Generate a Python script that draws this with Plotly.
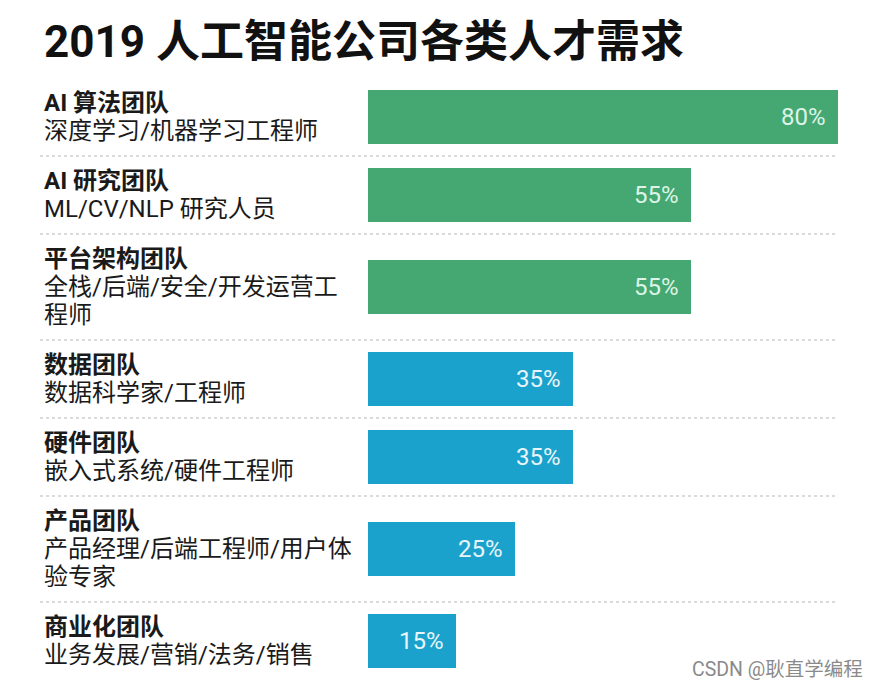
import plotly.graph_objects as go

# ---- data ----
title = "2019 人工智能公司各类人才需求"
teams = ["AI 算法团队", "AI 研究团队", "平台架构团队", "数据团队", "硬件团队", "产品团队", "商业化团队"]
roles = [
    ["深度学习/机器学习工程师"],
    ["ML/CV/NLP 研究人员"],
    ["全栈/后端/安全/开发运营工", "程师"],
    ["数据科学家/工程师"],
    ["嵌入式系统/硬件工程师"],
    ["产品经理/后端工程师/用户体", "验专家"],
    ["业务发展/营销/法务/销售"],
]
demand = [80, 55, 55, 35, 35, 25, 15]
group = ["ai", "ai", "ai", "other", "other", "other", "other"]
watermark = "CSDN @耿直学编程"

# ---- style ----
W, H = 880, 688
OFF = 8  # page body margin
FONT = "Roboto, Noto Sans CJK SC, sans-serif"
bar_color = {"ai": "#45a873", "other": "#1ba2cc"}
val_color = {"ai": "#dcf5e6", "other": "#e8f6fb"}
LEFT = 42
BAR_X0 = 368
PX_PER_PCT = 5.87
LINE = 28
TOP = 78
GAP = 24
BAR_H = 54


def px(x):
    return (x - OFF) / W


# row geometry from number of label lines (y axis in screen-pixel units)
nlines = [1 + len(r) for r in roles]
heights = [LINE * n - 2 + GAP for n in nlines]
centers, edges = [], []
y = TOP
for h in heights:
    centers.append(y + h / 2)
    y += h
    edges.append(y)

fig = go.Figure()
fig.add_trace(go.Bar(
    x=demand, y=centers, orientation="h", width=BAR_H,
    marker=dict(color=[bar_color[g] for g in group], line=dict(width=0)),
    hoverinfo="skip",
))

ann = []
ann.append(dict(text=f"<b>{title}</b>", x=px(LEFT), xref="paper", y=42, yref="y",
                xanchor="left", yanchor="middle", showarrow=False,
                font=dict(family=FONT, size=44, color="#111111")))
for i, c in enumerate(centers):
    lines = [f"<b>{teams[i]}</b>"] + roles[i]
    n = len(lines)
    for j, t in enumerate(lines):
        ann.append(dict(text=t, x=px(LEFT), xref="paper", y=c + (j - (n - 1) / 2) * LINE,
                        yref="y", xanchor="left", yanchor="middle", showarrow=False,
                        font=dict(family=FONT, size=24, color="#1a1a1a")))
    ann.append(dict(text=f"{demand[i]}%", x=demand[i], xref="x", y=c, yref="y",
                    xanchor="right", yanchor="middle", xshift=-10, showarrow=False,
                    font=dict(family=FONT, size=24, color=val_color[group[i]])))
ann.append(dict(text=watermark, x=px(865), xref="paper", y=669, yref="y",
                xanchor="right", yanchor="middle", showarrow=False,
                font=dict(family=FONT, size=19.5, color="#8a8a8a")))

shapes = []
for e in edges[:-1]:
    shapes.append(dict(type="line", xref="paper", yref="y", x0=px(40), x1=px(838),
                       y0=e, y1=e, line=dict(color="#cfcfcf", width=1.5, dash="dot")))

fig.update_layout(
    width=W, height=H, margin=dict(l=0, r=0, t=0, b=0),
    paper_bgcolor="white", plot_bgcolor="white",
    showlegend=False, annotations=ann, shapes=shapes,
    xaxis=dict(domain=[px(BAR_X0), 1], range=[0, (W + OFF - BAR_X0) / PX_PER_PCT],
               visible=False, fixedrange=True),
    yaxis=dict(domain=[0, 1], range=[H + OFF, OFF], visible=False, fixedrange=True),
    bargap=0,
)
fig.write_html("out.html")
